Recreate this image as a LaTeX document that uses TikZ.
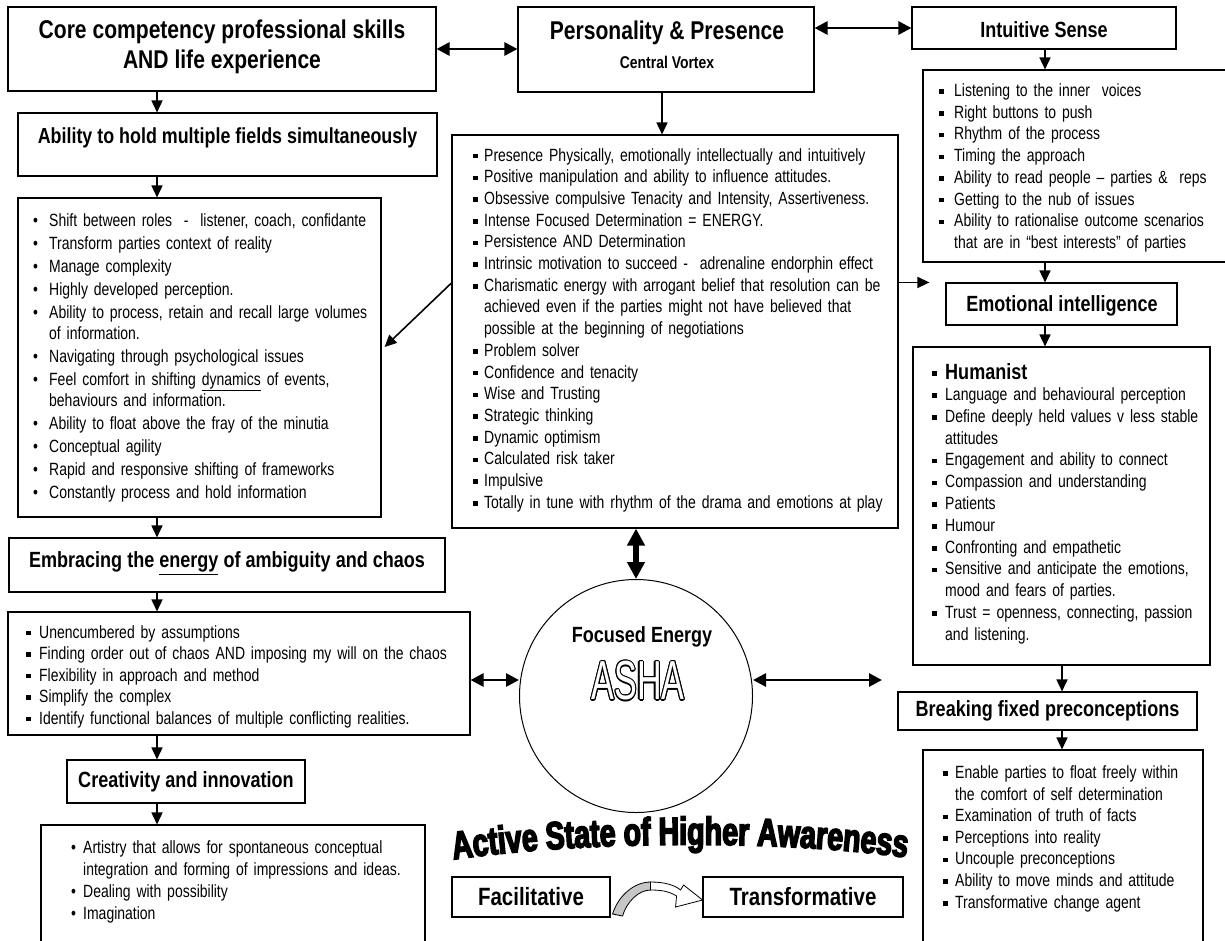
\documentclass[tikz,border=0pt]{standalone}
\usepackage{fontspec}
\setmainfont{Liberation Sans}[FakeStretch=0.79]
\newfontfamily\hfont{Liberation Sans}[FakeStretch=0.82]
\newfontfamily\ashafont{Liberation Sans}[FakeStretch=0.62]
\newfontfamily\activefont{Liberation Sans}[FakeStretch=0.73,FakeBold=4]
\usetikzlibrary{arrows.meta,calc,decorations.text,fit}
\newlength\lind
\newcommand\sqb{\rule[2.6pt]{4.5pt}{4.5pt}}
\newcommand\sqf[1]{\hangindent=\lind\hangafter=1\noindent\makebox[\lind][l]{\sqb}#1}
\newcommand\sqi[1]{\par\sqf{#1}}
\newcommand\rdf[1]{\hangindent=\lind\hangafter=1\noindent\makebox[\lind][l]{\textbullet}#1}
\newcommand\rdi[1]{\par\rdf{#1}}
\tikzset{
  frame/.style={draw, line width=1.1pt, rectangle, inner sep=0pt, fill=white},
  lst/.style={anchor=base west, inner sep=0pt, text width=#1, align=left, font=\fontsize{17.7}{21.7}\selectfont},
  hdr/.style={inner sep=0pt, font=\hfont\bfseries\fontsize{22}{26}\selectfont},
  arr/.style={-{Triangle[length=12pt,width=11pt]}, line width=1.6pt},
  darr/.style={{Triangle[length=13pt,width=13pt]}-{Triangle[length=13pt,width=13pt]}, line width=2.8pt},
  fatarr/.style={{Triangle[length=17pt,width=17pt]}-{Triangle[length=17pt,width=17pt]}, line width=6pt},
  ashastyle/.style={inner sep=0pt, font=\ashafont\fontsize{55}{55}\selectfont},
}
\begin{document}
\begin{tikzpicture}[x=1pt,y=-1pt]
\useasboundingbox (0,0) rectangle (1225,940);
\clip (0,0) rectangle (1225,940);
% frames
\node[frame, fit={(8,7) (436,91)}] (core) {};
\node[frame, fit={(518,7) (814,92)}] (pers) {};
\node[frame, fit={(912,7) (1176,49)}] (ints) {};
\node[frame, fit={(18,113) (437,176)}] (abil) {};
\node[frame, fit={(452,135) (898,528)}] (plist) {};
\node[frame, fit={(923,70) (1240,262)}] (ilist) {};
\node[frame, fit={(18,198) (381,517)}] (alist) {};
\node[frame, fit={(946,283) (1177,325)}] (emo) {};
\node[frame, fit={(913,347) (1210,665)}] (hlist) {};
\node[frame, fit={(9,538) (445,592)}] (emb) {};
\node[frame, fit={(8,612) (470,735)}] (elist) {};
\node[frame, fit={(898,692) (1197,730)}] (brk) {};
\node[frame, fit={(923,750) (1203,960)}] (blist) {};
\node[frame, fit={(67,760) (305,803)}] (crea) {};
\node[frame, fit={(41,825) (425,960)}] (clist) {};
\node[frame, fit={(452,877) (610,917)}] (fac) {};
\node[frame, fit={(703,877) (903,917)}] (trans) {};
\node[draw, circle, line width=1pt, minimum size=233pt, inner sep=0pt] (focus) at (636,696) {};
% header texts
\node[inner sep=0pt, align=center, font=\hfont\bfseries\fontsize{25.7}{30}\selectfont] (coreT) at (222,47) {Core competency professional skills\\AND life experience};
\node[inner sep=0pt, font=\hfont\bfseries\fontsize{25.7}{30}\selectfont] (persT) at (667,33) {Personality \& Presence};
\node[inner sep=0pt, font=\hfont\bfseries\fontsize{17}{20}\selectfont] (persV) at (667,62) {Central Vortex};
\node[hdr] (intsT) at (1044,30) {Intuitive Sense};
\node[inner sep=0pt, font=\hfont\bfseries\fontsize{21.8}{26}\selectfont] (abilT) at (227.5,138) {Ability to hold multiple fields simultaneously};
\node[hdr] (embT) at (227,563) {Embracing the \underline{energy} of ambiguity and chaos};
\node[hdr] (creaT) at (186,782) {Creativity and innovation};
\node[hdr] (emoT) at (1062,306) {Emotional intelligence};
\node[hdr] (brkT) at (1047.5,711) {Breaking fixed preconceptions};
\node[inner sep=0pt, font=\hfont\bfseries\fontsize{25}{30}\selectfont] (facT) at (531,897) {Facilitative};
\node[inner sep=0pt, font=\hfont\bfseries\fontsize{25}{30}\selectfont] (transT) at (803,897) {Transformative};
\node[hdr] (focT) at (642,637) {Focused Energy};
% ASHA outlined
\coordinate (ashaC) at (638,681);
\foreach \a in {0,30,...,330} \node[ashastyle, text=black] (asha\a) at ($(ashaC)+(\a:1.1)$) {ASHA};
\node[ashastyle, text=white] (asha) at (ashaC) {ASHA};
% lists
\node[lst=430pt] (plistT) at (473,161) {\setlength\lind{11pt}%
\sqf{Presence Physically, emotionally intellectually and intuitively}
\sqi{Positive manipulation and ability to influence attitudes.}
\sqi{Obsessive compulsive Tenacity and Intensity, Assertiveness.}
\sqi{Intense Focused Determination = ENERGY.}
\sqi{Persistence AND Determination}
\sqi{Intrinsic motivation to succeed -\ \ adrenaline endorphin effect}
\sqi{Charismatic energy with arrogant belief that resolution can be\newline achieved even if the parties might not have believed that\newline possible at the beginning of negotiations}
\sqi{Problem solver}
\sqi{Confidence and tenacity}
\sqi{Wise and Trusting}
\sqi{Strategic thinking}
\sqi{Dynamic optimism}
\sqi{Calculated risk taker}
\sqi{Impulsive}
\sqi{Totally in tune with rhythm of the drama and emotions at play}\par};
\node[lst=300pt] (ilistT) at (939,96.5) {\setlength\lind{15pt}%
\sqf{Listening to the inner\ \ voices}
\sqi{Right buttons to push}
\sqi{Rhythm of the process}
\sqi{Timing the approach}
\sqi{Ability to read people -- parties \&\ \ reps}
\sqi{Getting to the nub of issues}
\sqi{Ability to rationalise outcome scenarios\newline that are in “best interests” of parties}\par};
\node[lst=360pt, font=\fontsize{17.7}{21}\selectfont] (alistT) at (33,226) {\setlength\lind{16pt}\setlength\parskip{2pt}%
\rdf{Shift between roles\ \ -\ \ listener, coach, confidante}
\rdi{Transform parties context of reality}
\rdi{Manage complexity}
\rdi{Highly developed perception.}
\rdi{Ability to process, retain and recall large volumes\newline of information.}
\rdi{Navigating through psychological issues}
\rdi{Feel comfort in shifting \underline{dynamics} of events,\newline behaviours and information.}
\rdi{Ability to float above the fray of the minutia}
\rdi{Conceptual agility}
\rdi{Rapid and responsive shifting of frameworks}
\rdi{Constantly process and hold information}\par};
\node[lst=460pt, font=\fontsize{17.7}{21.5}\selectfont] (elistT) at (26,638) {\setlength\lind{13pt}%
\sqf{Unencumbered by assumptions}
\sqi{Finding order out of chaos AND imposing my will on the chaos}
\sqi{Flexibility in approach and method}
\sqi{Simplify the complex}
\sqi{Identify functional balances of multiple conflicting realities.}\par};
\node[lst=380pt, font=\fontsize{17.7}{22.3}\selectfont] (clistT) at (71,853) {\setlength\lind{12pt}%
\rdf{Artistry that allows for spontaneous conceptual\newline integration and forming of impressions and ideas.}
\rdi{Dealing with possibility}
\rdi{Imagination}\par};
\node[inner sep=0pt, anchor=base west, font=\hfont\bfseries\fontsize{22}{26}\selectfont] (hlistH) at (932,379) {\makebox[13pt][l]{\rule[3pt]{5pt}{5pt}}Humanist};
\node[lst=300pt, font=\fontsize{17.7}{21.8}\selectfont] (hlistT) at (932,400.5) {\setlength\lind{13pt}%
\sqf{Language and behavioural perception}
\sqi{Define deeply held values v less stable\newline attitudes}
\sqi{Engagement and ability to connect}
\sqi{Compassion and understanding}
\sqi{Patients}
\sqi{Humour}
\sqi{Confronting and empathetic}
\sqi{Sensitive and anticipate the emotions,\newline mood and fears of parties.}
\sqi{Trust = openness, connecting, passion\newline and listening.}\par};
\node[lst=300pt, font=\fontsize{17.7}{21.6}\selectfont] (blistT) at (943,778.5) {\setlength\lind{12pt}%
\sqf{Enable parties to float freely within\newline the comfort of self determination}
\sqi{Examination of truth of facts}
\sqi{Perceptions into reality}
\sqi{Uncouple preconceptions}
\sqi{Ability to move minds and attitude}
\sqi{Transformative change agent}\par};
% arrow guide coordinates
\coordinate (colx) at (157,0);
\coordinate (px) at (662,0);
\coordinate (rx1) at (1045,0);
\coordinate (rx2) at (1062,0);
\coordinate (ly) at (0,680);
% connectors
\draw[arr] (core.south -| colx) -- (abil.north -| colx);
\draw[arr] (abil.south -| colx) -- (alist.north -| colx);
\draw[arr] (alist.south -| colx) -- (emb.north -| colx);
\draw[arr] (emb.south -| colx) -- (elist.north -| colx);
\draw[arr] (elist.south -| colx) -- (crea.north -| colx);
\draw[arr] (crea.south -| colx) -- (clist.north -| colx);
\draw[arr] (pers.south -| px) -- (plist.north -| px);
\draw[arr] (ints.south -| rx1) -- (ilist.north -| rx1);
\draw[arr] (ilist.south -| rx1) -- (emo.north -| rx1);
\draw[arr] (emo.south -| rx1) -- (hlist.north -| rx1);
\draw[arr] (hlist.south -| rx2) -- (brk.north -| rx2);
\draw[arr] (brk.south -| rx2) -- (blist.north -| rx2);
\draw[darr] (core.east) -- (pers.west |- core.east);
\draw[darr] (pers.east |- ints.west) -- (ints.west);
\coordinate (diagS) at ([yshift=48.5pt]plist.west);
\coordinate (diagE) at ([xshift=3pt,yshift=10.5pt]alist.east);
\draw[arr] (diagS) -- (diagE);
\coordinate (emoTip) at ([xshift=-16pt]emo.north west);
\draw[arr] (plist.east |- emoTip) -- (emoTip);
\draw[fatarr] (plist.south -| focus.north) -- (focus.north);
\draw[darr] (elist.east |- ly) -- (focus.west |- ly);
\coordinate (rtip) at (882,680);
\draw[darr] (focus.east |- ly) -- (rtip);
% curved block arrow between Facilitative and Transformative
\begin{scope}[shift={(fac.east)}]
\filldraw[fill=gray!45, line width=0.8pt] (2,17) .. controls (8,-2) and (24,-15) .. (40,-15) -- (40,-7) .. controls (28,-7) and (16,5) .. (12,19) -- cycle;
\filldraw[fill=white, line width=0.8pt] (40,-15) .. controls (54,-15) and (64,-12) .. (70,-7) -- (73,-12) -- (92,3) -- (65,10) -- (66,-1) .. controls (58,-6) and (50,-7) .. (40,-7) -- cycle;
\end{scope}
% WordArt-like title
\path[decorate, decoration={text along path, text align=center, text={|\activefont\bfseries\fontsize{39}{40}\selectfont|Active State of Higher Awareness}}] (450,860) .. controls (570,842) and (770,838) .. (910,858);
\end{tikzpicture}
\end{document}
